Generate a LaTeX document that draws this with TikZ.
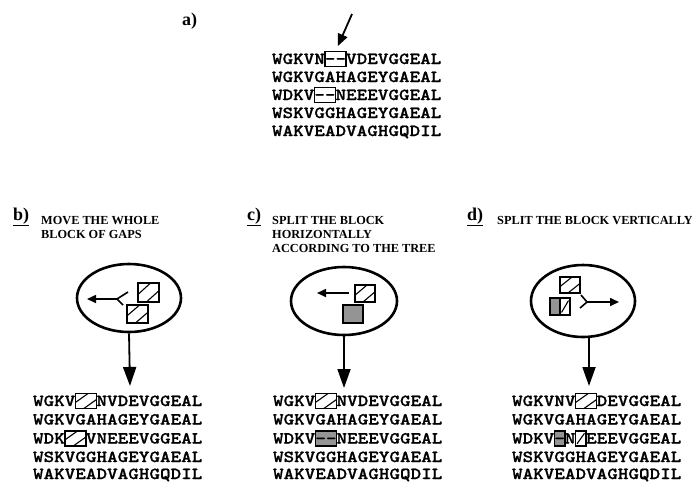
\documentclass[tikz,border=0pt]{standalone}
\usepackage{fontspec}
\setmainfont{Liberation Serif}
\newfontfamily\seqfont[FakeStretch=1.2,FakeBold=1]{lmmonolt10-bold.otf}
\usetikzlibrary{arrows.meta,calc,shapes.geometric}
\tikzset{
  seq/.style={font=\seqfont\fontsize{16.8}{20}\selectfont, inner sep=0pt, outer sep=0pt,
    text height=12.5pt, text depth=2.5pt, anchor=base west},
  gbox/.style={seq, draw, line width=1.5pt},
  graybox/.style={gbox, fill=black!42},
  hatchtwo/.style={path picture={
    \draw[line width=1.1pt] ($(path picture bounding box.south west)!0.4!(path picture bounding box.north west)$) -- ($(path picture bounding box.north west)!0.6!(path picture bounding box.north east)$);
    \draw[line width=1.1pt] ($(path picture bounding box.south west)!0.4!(path picture bounding box.south east)$) -- ($(path picture bounding box.south east)!0.6!(path picture bounding box.north east)$);}},
  hatchone/.style={path picture={
    \draw[line width=1.1pt] ($(path picture bounding box.south west)!0.15!(path picture bounding box.north east)$) -- ($(path picture bounding box.south west)!0.85!(path picture bounding box.north east)$);}},
  hbox/.style={gbox, hatchtwo},
  sq/.style={draw, line width=1.6pt, inner sep=0pt, outer sep=0pt, anchor=north west},
  oval/.style={draw, ellipse, line width=2.6pt, inner sep=0pt},
  bigarrow/.style={line width=1.8pt, -{Triangle[length=19pt,width=13pt]}},
  smallarrow/.style={line width=1.6pt, -{Triangle[length=9pt,width=8pt]}},
  lab/.style={font=\bfseries\fontsize{18}{20}\selectfont, inner sep=0pt, anchor=base west},
  head/.style={font=\bfseries\fontsize{12.3}{13}\selectfont, inner sep=0pt, anchor=base west},
}
\begin{document}
\begin{tikzpicture}[x=1pt,y=-1pt]
\useasboundingbox (0,0) rectangle (692,483);
% ---------- panel a ----------
\node[lab] (la) at (182,25) {a)};
\node[seq] (a1p) at (272,64) {WGKVN};
\node[gbox] (a1g) at (a1p.base east) {--};
\node[seq] (a1s) at (a1g.base east) {VDEVGGEAL};
\node[seq] (a2) at (272,82) {WGKVGAHAGEYGAEAL};
\node[seq] (a3p) at (272,100) {WDKV};
\node[gbox] (a3g) at (a3p.base east) {--};
\node[seq] (a3s) at (a3g.base east) {NEEEVGGEAL};
\node[seq] (a4) at (272,118) {WSKVGGHAGEYGAEAL};
\node[seq] (a5) at (272,136) {WAKVEADVAGHGQDIL};
\coordinate (aa0) at (352,14);
\draw[line width=1.8pt, -{Triangle[length=12pt,width=10pt]}, shorten >=6pt] (aa0) -- (a1g.north);
% ---------- panel b ----------
\node[lab] (lb) at (13,220) {\underline{b)}};
\node[head] (hb1) at (41,224) {MOVE THE WHOLE};
\node[head] (hb2) at (41,238) {BLOCK OF GAPS};
\node[oval, minimum width=104pt, minimum height=68pt] (eb) at (129,298) {};
\node[sq, hatchtwo, minimum width=21pt, minimum height=19pt] (bs1) at (138,283) {};
\node[sq, hatchtwo, minimum width=21pt, minimum height=18pt] (bs2) at (127,305) {};
\coordinate (bf) at (117,299);
\coordinate (bf1) at (128,292);
\coordinate (bf2) at (123,305);
\coordinate (bt) at (87,299);
\draw[line width=1.6pt] (bf1) -- (bf) -- (bf2);
\draw[smallarrow] (bf) -- (bt);
\coordinate (btb) at (130,386);
\draw[bigarrow] (eb.south) -- (btb);
\node[seq] (b1p) at (33,406) {WGKV};
\node[hbox] (b1g) at (b1p.base east) {\phantom{--}};
\node[seq] (b1s) at (b1g.base east) {NVDEVGGEAL};
\node[seq] (b2) at (33,424.5) {WGKVGAHAGEYGAEAL};
\node[seq] (b3p) at (33,443.5) {WDK};
\node[hbox] (b3g) at (b3p.base east) {\phantom{--}};
\node[seq] (b3s) at (b3g.base east) {VNEEEVGGEAL};
\node[seq] (b4) at (33,462) {WSKVGGHAGEYGAEAL};
\node[seq] (b5) at (33,479) {WAKVEADVAGHGQDIL};
% ---------- panel c ----------
\node[lab] (lc) at (247,220) {\underline{c)}};
\node[head] (hc1) at (272,224) {SPLIT THE BLOCK};
\node[head] (hc2) at (272,238) {HORIZONTALLY};
\node[head] (hc3) at (272,252) {ACCORDING TO THE TREE};
\node[oval, minimum width=106pt, minimum height=68pt] (ec) at (344,301) {};
\node[sq, hatchtwo, minimum width=20pt, minimum height=17pt] (cs1) at (355,285) {};
\node[sq, fill=black!42, minimum width=20pt, minimum height=18pt] (cs2) at (343,305) {};
\coordinate (cf) at (349,293);
\coordinate (ct) at (317,293);
\draw[smallarrow] (cf) -- (ct);
\coordinate (ctb) at (344,388);
\draw[bigarrow] (ec.south) -- (ctb);
\node[seq] (c1p) at (273,406) {WGKV};
\node[hbox] (c1g) at (c1p.base east) {\phantom{--}};
\node[seq] (c1s) at (c1g.base east) {NVDEVGGEAL};
\node[seq] (c2) at (273,424.5) {WGKVGAHAGEYGAEAL};
\node[seq] (c3p) at (273,443.5) {WDKV};
\node[graybox] (c3g) at (c3p.base east) {--};
\node[seq] (c3s) at (c3g.base east) {NEEEVGGEAL};
\node[seq] (c4) at (273,462) {WSKVGGHAGEYGAEAL};
\node[seq] (c5) at (273,479) {WAKVEADVAGHGQDIL};
% ---------- panel d ----------
\node[lab] (ld) at (467,220) {\underline{d)}};
\node[head] (hd1) at (497,224) {SPLIT THE BLOCK VERTICALLY};
\node[oval, minimum width=104pt, minimum height=72pt] (ed) at (583,301) {};
\node[sq, hatchtwo, minimum width=20pt, minimum height=16pt] (ds1) at (560,277) {};
\node[sq, fill=black!42, minimum width=10pt, minimum height=17pt] (ds2) at (550,298) {};
\node[sq, hatchone, minimum width=10pt, minimum height=17pt] (ds3) at (560,298) {};
\coordinate (df) at (587,302);
\coordinate (df1) at (581,295);
\coordinate (df2) at (580,308);
\coordinate (dt) at (619,302);
\draw[line width=1.6pt] (df1) -- (df) -- (df2);
\draw[smallarrow] (df) -- (dt);
\coordinate (dst) at ([xshift=6pt]ed.south);
\coordinate (dtb) at (589,386);
\draw[bigarrow] (dst) -- (dtb);
\node[seq] (d1p) at (512,406) {WGKVNV};
\node[hbox] (d1g) at (d1p.base east) {\phantom{--}};
\node[seq] (d1s) at (d1g.base east) {DEVGGEAL};
\node[seq] (d2) at (512,424.5) {WGKVGAHAGEYGAEAL};
\node[seq] (d3p) at (512,443.5) {WDKV};
\node[graybox] (d3g) at (d3p.base east) {-};
\node[seq] (d3n) at (d3g.base east) {N};
\node[gbox, hatchone] (d3h) at (d3n.base east) {\phantom{-}};
\node[seq] (d3s) at (d3h.base east) {EEEVGGEAL};
\node[seq] (d4) at (512,462) {WSKVGGHAGEYGAEAL};
\node[seq] (d5) at (512,479) {WAKVEADVAGHGQDIL};
\end{tikzpicture}
\end{document}
